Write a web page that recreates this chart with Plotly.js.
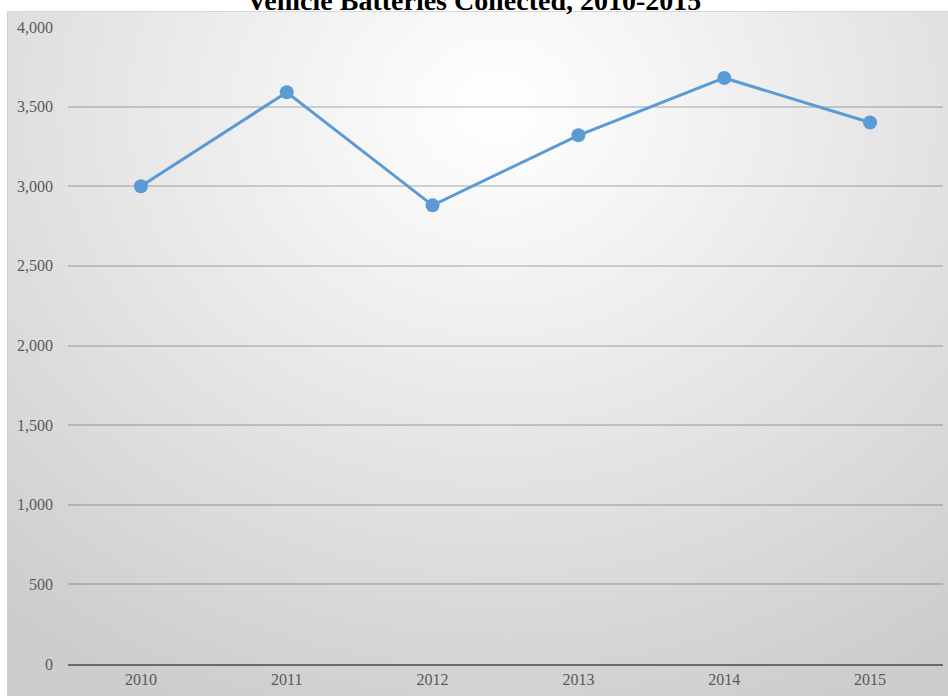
<!DOCTYPE html>
<html>
<head>
<meta charset="utf-8">
<script src="https://cdn.plot.ly/plotly-3.0.1.min.js"></script>
<style>
  html, body { margin: 0; padding: 0; background: #ffffff; }
  #wrap { position: relative; width: 948px; height: 696px; overflow: hidden; }
  #bg { position: absolute; left: 7px; top: 11px; right: 0; bottom: 0;
        border-top: 1px solid #d6d6d6; border-left: 1px solid #d0d0d0;
        background: radial-gradient(ellipse 80% 95% at 52% 14%, #ffffff 0%, #f6f6f6 20%, #e4e4e4 55%, #cdcdcd 100%); }
  #chart { position: absolute; left: 0; top: 0; width: 948px; height: 696px; }
</style>
</head>
<body>
<div id="wrap">
  <div id="bg"></div>
  <div id="chart"></div>
</div>
<script>
const years = ['2010', '2011', '2012', '2013', '2014', '2015'];
const batteries = [3000, 3590, 2880, 3320, 3680, 3400];
const yTicks = [0, 500, 1000, 1500, 2000, 2500, 3000, 3500, 4000];
const chartTitle = 'Vehicle Batteries Collected, 2010-2015';

const trace = {
  x: years,
  y: batteries,
  type: 'scatter',
  mode: 'lines+markers',
  line: { color: '#5b9bd5', width: 3 },
  marker: { color: '#5b9bd5', size: 14 },
  cliponaxis: false,
  hoverinfo: 'x+y'
};

const layout = {
  width: 948,
  height: 696,
  paper_bgcolor: 'rgba(0,0,0,0)',
  plot_bgcolor: 'rgba(0,0,0,0)',
  margin: { l: 68, r: 5, t: 27, b: 32 },
  showlegend: false,
  font: { family: '"Liberation Serif", "Times New Roman", serif', color: '#595959', size: 16 },
  title: {
    text: '<b>' + chartTitle + '</b>',
    font: { family: '"Liberation Serif", "Times New Roman", serif', size: 28, color: '#000000' },
    x: 0.5, xref: 'container', xanchor: 'center',
    y: 1.0, yref: 'container', yanchor: 'middle'
  },
  xaxis: {
    type: 'category',
    range: [-0.5, 5.5],
    showgrid: false,
    zeroline: false,
    showline: true,
    linecolor: '#6b6b6b',
    linewidth: 2,
    ticks: '',
    tickfont: { size: 16, color: '#595959' },
    fixedrange: true
  },
  yaxis: {
    range: [0, 4000],
    tickvals: yTicks,
    tickformat: ',',
    showgrid: true,
    gridcolor: 'rgba(0,0,0,0.16)',
    gridwidth: 1.5,
    zeroline: false,
    showline: false,
    ticks: '',
    ticklabelstandoff: 14,
    tickfont: { size: 16, color: '#595959' },
    fixedrange: true
  }
};

Plotly.newPlot('chart', [trace], layout, { displayModeBar: false });
</script>
</body>
</html>
